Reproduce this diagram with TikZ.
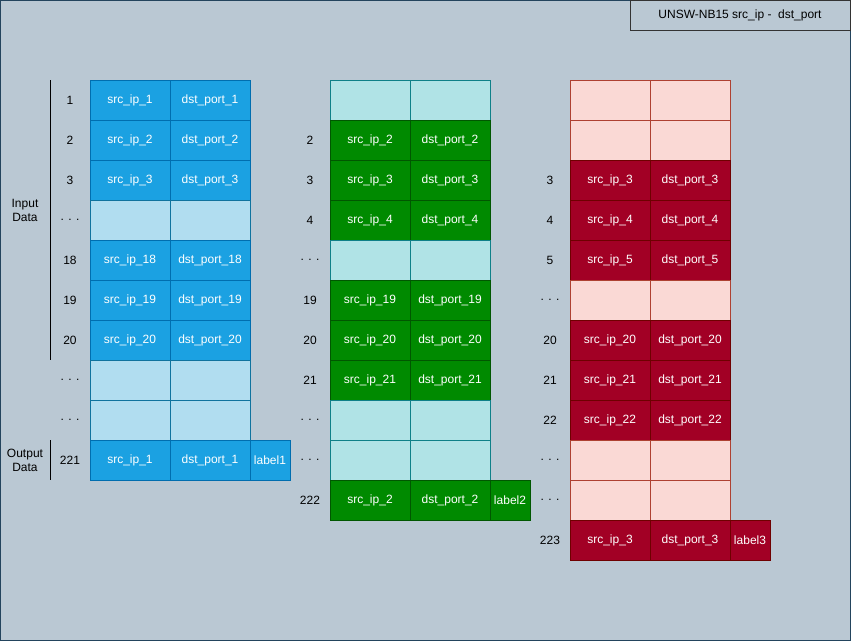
\documentclass[tikz,border=0pt]{standalone}
\usepackage{fontspec}
\setmainfont{Liberation Sans}
\definecolor{bgc}{HTML}{BAC8D3}
\definecolor{bgline}{HTML}{23445D}
\definecolor{bdf}{HTML}{1BA1E2}\definecolor{bdl}{HTML}{006EAF}
\definecolor{blf}{HTML}{B1DDF0}\definecolor{bll}{HTML}{10739E}
\definecolor{gdf}{HTML}{008A00}\definecolor{gdl}{HTML}{005700}
\definecolor{glf}{HTML}{B0E3E6}\definecolor{gll}{HTML}{0E8088}
\definecolor{rdf}{HTML}{A20025}\definecolor{rdl}{HTML}{6F0000}
\definecolor{rlf}{HTML}{FAD9D5}\definecolor{rll}{HTML}{AE4132}
\tikzset{
  cell/.style={draw, line width=1pt, minimum width=80pt, minimum height=40pt, inner sep=0pt, text=white, font=\fontsize{12}{14}\selectfont},
  lab/.style={cell, minimum width=40pt},
  bd/.style={fill=bdf, draw=bdl}, bl/.style={fill=blf, draw=bll},
  gd/.style={fill=gdf, draw=gdl}, gl/.style={fill=glf, draw=gll},
  rd/.style={fill=rdf, draw=rdl}, rl/.style={fill=rlf, draw=rll},
  num/.style={inner sep=0pt, text=black, font=\fontsize{12}{14}\selectfont},
  side/.style={inner sep=0pt, text=black, align=center, font=\fontsize{12}{14}\selectfont},
  bracket/.style={draw=black, line width=1pt},
}
\begin{document}
\begin{tikzpicture}[x=1pt,y=-1pt]
\useasboundingbox (0,0) rectangle (851,641);
\fill[bgc] (0,0) rectangle (851,641);
\draw[bgline, line width=1pt] (0.5,0.5) rectangle (850.5,640.5);
\node[draw=black!80, line width=1pt, minimum width=220pt, minimum height=30pt, inner sep=0pt, font=\fontsize{12}{14}\selectfont] (title) at (740,15) {UNSW-NB15 src\_ip -\ \ dst\_port};
% column 1
\foreach \r/\n/\k/\a/\b in {0/1/bd/src\_ip\_1/dst\_port\_1, 1/2/bd/src\_ip\_2/dst\_port\_2, 2/3/bd/src\_ip\_3/dst\_port\_3, 3/{. . .}/bl/{}/{}, 4/18/bd/src\_ip\_18/dst\_port\_18, 5/19/bd/src\_ip\_19/dst\_port\_19, 6/20/bd/src\_ip\_20/dst\_port\_20, 7/{. . .}/bl/{}/{}, 8/{. . .}/bl/{}/{}, 9/221/bd/src\_ip\_1/dst\_port\_1}{
  \node[cell,\k] (a\r) at (130,{100+40*\r}) {\a};
  \node[cell,\k] (b\r) at (210,{100+40*\r}) {\b};
  \node[num] (n\r) at (70,{100+40*\r}) {\n};
}
\node[lab,bd] (l1) at (270,460) {label1};
% column 2
\foreach \r/\n/\k/\a/\b in {0/{}/gl/{}/{}, 1/2/gd/src\_ip\_2/dst\_port\_2, 2/3/gd/src\_ip\_3/dst\_port\_3, 3/4/gd/src\_ip\_4/dst\_port\_4, 4/{. . .}/gl/{}/{}, 5/19/gd/src\_ip\_19/dst\_port\_19, 6/20/gd/src\_ip\_20/dst\_port\_20, 7/21/gd/src\_ip\_21/dst\_port\_21, 8/{. . .}/gl/{}/{}, 9/{. . .}/gl/{}/{}, 10/222/gd/src\_ip\_2/dst\_port\_2}{
  \node[cell,\k] (c\r) at (370,{100+40*\r}) {\a};
  \node[cell,\k] (d\r) at (450,{100+40*\r}) {\b};
  \node[num] (m\r) at (310,{100+40*\r}) {\n};
}
\node[lab,gd] (l2) at (510,500) {label2};
% column 3
\foreach \r/\n/\k/\a/\b in {0/{}/rl/{}/{}, 1/{}/rl/{}/{}, 2/3/rd/src\_ip\_3/dst\_port\_3, 3/4/rd/src\_ip\_4/dst\_port\_4, 4/5/rd/src\_ip\_5/dst\_port\_5, 5/{. . .}/rl/{}/{}, 6/20/rd/src\_ip\_20/dst\_port\_20, 7/21/rd/src\_ip\_21/dst\_port\_21, 8/22/rd/src\_ip\_22/dst\_port\_22, 9/{. . .}/rl/{}/{}, 10/{. . .}/rl/{}/{}, 11/223/rd/src\_ip\_3/dst\_port\_3}{
  \node[cell,\k] (e\r) at (610,{100+40*\r}) {\a};
  \node[cell,\k] (f\r) at (690,{100+40*\r}) {\b};
  \node[num] (p\r) at (550,{100+40*\r}) {\n};
}
\node[lab,rd] (l3) at (750,540) {label3};
% side labels
\coordinate (inT) at (50,80); \coordinate (inB) at (50,360);
\coordinate (outT) at (50,440); \coordinate (outB) at (50,480);
\draw[bracket] (inT) -- (inB);
\draw[bracket] (outT) -- (outB);
\node[side] (input) at (25,210) {Input\\Data};
\node[side] (output) at (25,460) {Output\\Data};
\end{tikzpicture}
\end{document}
